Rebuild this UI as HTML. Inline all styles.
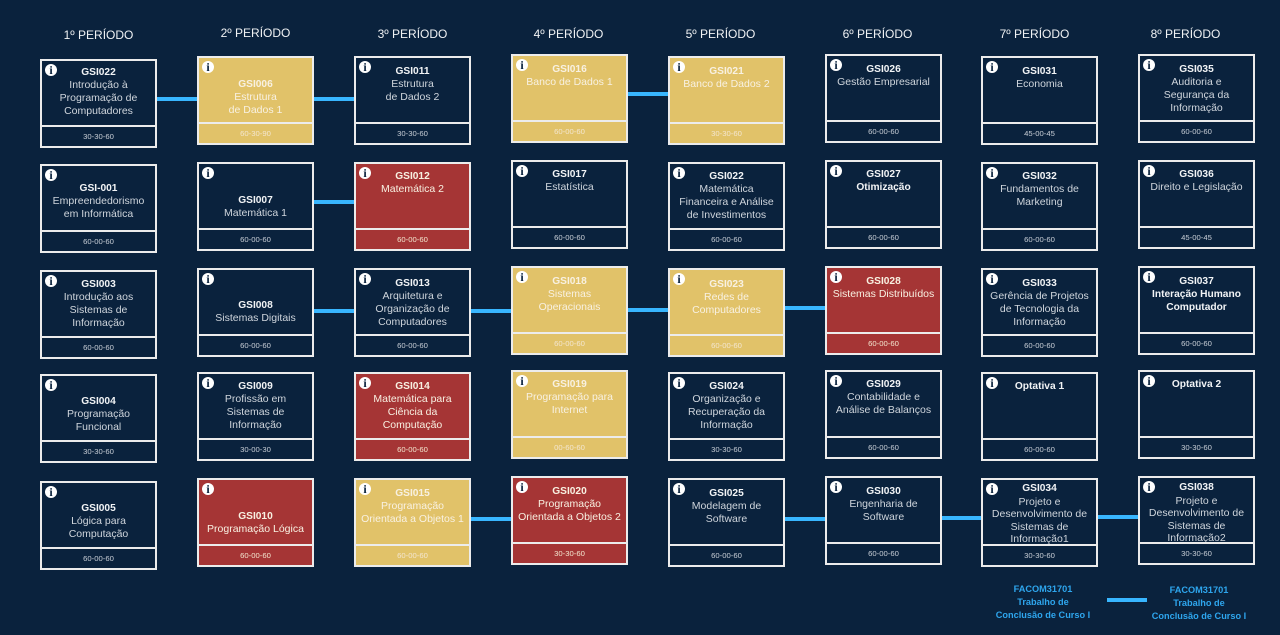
<!DOCTYPE html>
<html lang="pt-BR">
<head>
<meta charset="utf-8">
<title>Grade curricular</title>
<style>
html,body{margin:0;padding:0;}
body{width:1280px;height:635px;background:#0a223d;position:relative;overflow:hidden;font-family:"Liberation Sans",sans-serif;}
.h{position:absolute;width:117px;text-align:center;font-size:12px;line-height:16px;color:#f0f2f4;white-space:nowrap;}
.c{position:absolute;width:117px;height:89px;background:#0a223d;box-shadow:inset 0 0 0 2px #ececec;}
.g{background:#e1c269;}
.r{background:#a53535;}
.ii{position:absolute;left:5px;top:5px;width:12px;height:12px;border-radius:50%;background:#fff;color:#0a223d;font:bold 12px/12px "Liberation Serif",serif;text-align:center;}
.t{position:absolute;left:0;width:117px;margin-top:1px;text-align:center;font-size:10.5px;line-height:13px;color:#cfd5dc;white-space:nowrap;}
.t b{font-size:10.2px;color:#f2f4f6;}
.g .t,.r .t,.g .t b,.r .t b{color:#f8f1e2;}
.s{line-height:12.5px;}
.f{position:absolute;left:0;top:66px;width:117px;height:21px;border-top:2px solid #ececec;text-align:center;font-size:7.7px;line-height:19px;color:#c8ced6;}
.g .f,.r .f{color:#f3e6cf;}
.l{position:absolute;width:40px;height:4px;background:#38b6ff;}
.k{position:absolute;width:120px;text-align:center;font-size:9.2px;font-weight:bold;line-height:13px;color:#2ea6ee;white-space:nowrap;}
</style>
</head>
<body>

<div class="h" style="left:40px;top:27px">1º PERÍODO</div>
<div class="h" style="left:197px;top:25px">2º PERÍODO</div>
<div class="h" style="left:354px;top:26px">3º PERÍODO</div>
<div class="h" style="left:510px;top:26px">4º PERÍODO</div>
<div class="h" style="left:662px;top:26px">5º PERÍODO</div>
<div class="h" style="left:819px;top:26px">6º PERÍODO</div>
<div class="h" style="left:976px;top:26px">7º PERÍODO</div>
<div class="h" style="left:1127px;top:26px">8º PERÍODO</div>

<div class="l" style="left:157px;top:97px"></div>
<div class="l" style="left:314px;top:97px"></div>
<div class="l" style="left:628px;top:92px"></div>
<div class="l" style="left:314px;top:200px"></div>
<div class="l" style="left:314px;top:309px"></div>
<div class="l" style="left:471px;top:309px"></div>
<div class="l" style="left:628px;top:308px"></div>
<div class="l" style="left:785px;top:306px"></div>
<div class="l" style="left:471px;top:517px"></div>
<div class="l" style="left:785px;top:517px"></div>
<div class="l" style="left:942px;top:516px"></div>
<div class="l" style="left:1098px;top:515px"></div>

<!-- Period 1 -->
<div class="c" style="left:40px;top:59px"><div class="ii">i</div><div class="t" style="top:6px"><b>GSI022</b><br>Introdução à<br>Programação de<br>Computadores</div><div class="f">30-30-60</div></div>
<div class="c" style="left:40px;top:164px"><div class="ii">i</div><div class="t" style="top:17px"><b>GSI-001</b><br>Empreendedorismo<br>em Informática</div><div class="f">60-00-60</div></div>
<div class="c" style="left:40px;top:270px"><div class="ii">i</div><div class="t" style="top:7px"><b>GSI003</b><br>Introdução aos<br>Sistemas de<br>Informação</div><div class="f">60-00-60</div></div>
<div class="c" style="left:40px;top:374px"><div class="ii">i</div><div class="t" style="top:20px"><b>GSI004</b><br>Programação<br>Funcional</div><div class="f">30-30-60</div></div>
<div class="c" style="left:40px;top:481px"><div class="ii">i</div><div class="t" style="top:20px"><b>GSI005</b><br>Lógica para<br>Computação</div><div class="f">60-00-60</div></div>

<!-- Period 2 -->
<div class="c g" style="left:197px;top:56px"><div class="ii">i</div><div class="t" style="top:21px"><b>GSI006</b><br>Estrutura<br>de Dados 1</div><div class="f">60-30-90</div></div>
<div class="c" style="left:197px;top:162px"><div class="ii">i</div><div class="t" style="top:31px"><b>GSI007</b><br>Matemática 1</div><div class="f">60-00-60</div></div>
<div class="c" style="left:197px;top:268px"><div class="ii">i</div><div class="t" style="top:30px"><b>GSI008</b><br>Sistemas Digitais</div><div class="f">60-00-60</div></div>
<div class="c" style="left:197px;top:372px"><div class="ii">i</div><div class="t" style="top:7px"><b>GSI009</b><br>Profissão em<br>Sistemas de<br>Informação</div><div class="f">30-00-30</div></div>
<div class="c r" style="left:197px;top:478px"><div class="ii">i</div><div class="t" style="top:31px"><b>GSI010</b><br>Programação Lógica</div><div class="f">60-00-60</div></div>

<!-- Period 3 -->
<div class="c" style="left:354px;top:56px"><div class="ii">i</div><div class="t" style="top:8px"><b>GSI011</b><br>Estrutura<br>de Dados 2</div><div class="f">30-30-60</div></div>
<div class="c r" style="left:354px;top:162px"><div class="ii">i</div><div class="t" style="top:7px"><b>GSI012</b><br>Matemática 2</div><div class="f">60-00-60</div></div>
<div class="c" style="left:354px;top:268px"><div class="ii">i</div><div class="t" style="top:8px"><b>GSI013</b><br>Arquitetura e<br>Organização de<br>Computadores</div><div class="f">60-00-60</div></div>
<div class="c r" style="left:354px;top:372px"><div class="ii">i</div><div class="t" style="top:7px"><b>GSI014</b><br>Matemática para<br>Ciência da<br>Computação</div><div class="f">60-00-60</div></div>
<div class="c g" style="left:354px;top:478px"><div class="ii">i</div><div class="t" style="top:8px"><b>GSI015</b><br>Programação<br>Orientada a Objetos 1</div><div class="f">60-00-60</div></div>

<!-- Period 4 -->
<div class="c g" style="left:511px;top:54px"><div class="ii">i</div><div class="t" style="top:8px"><b>GSI016</b><br>Banco de Dados 1</div><div class="f">60-00-60</div></div>
<div class="c" style="left:511px;top:160px"><div class="ii">i</div><div class="t" style="top:7px"><b>GSI017</b><br>Estatística</div><div class="f">60-00-60</div></div>
<div class="c g" style="left:511px;top:266px"><div class="ii">i</div><div class="t" style="top:8px"><b>GSI018</b><br>Sistemas<br>Operacionais</div><div class="f">60-00-60</div></div>
<div class="c g" style="left:511px;top:370px"><div class="ii">i</div><div class="t" style="top:7px"><b>GSI019</b><br>Programação para<br>Internet</div><div class="f">00-60-60</div></div>
<div class="c r" style="left:511px;top:476px"><div class="ii">i</div><div class="t" style="top:8px"><b>GSI020</b><br>Programação<br>Orientada a Objetos 2</div><div class="f">30-30-60</div></div>

<!-- Period 5 -->
<div class="c g" style="left:668px;top:56px"><div class="ii">i</div><div class="t" style="top:8px"><b>GSI021</b><br>Banco de Dados 2</div><div class="f">30-30-60</div></div>
<div class="c" style="left:668px;top:162px"><div class="ii">i</div><div class="t" style="top:7px"><b>GSI022</b><br>Matemática<br>Financeira e Análise<br>de Investimentos</div><div class="f">60-00-60</div></div>
<div class="c g" style="left:668px;top:268px"><div class="ii">i</div><div class="t" style="top:9px"><b>GSI023</b><br>Redes de<br>Computadores</div><div class="f">60-00-60</div></div>
<div class="c" style="left:668px;top:372px"><div class="ii">i</div><div class="t" style="top:7px"><b>GSI024</b><br>Organização e<br>Recuperação da<br>Informação</div><div class="f">30-30-60</div></div>
<div class="c" style="left:668px;top:478px"><div class="ii">i</div><div class="t" style="top:8px"><b>GSI025</b><br>Modelagem de<br>Software</div><div class="f">60-00-60</div></div>

<!-- Period 6 -->
<div class="c" style="left:825px;top:54px"><div class="ii">i</div><div class="t" style="top:8px"><b>GSI026</b><br>Gestão Empresarial</div><div class="f">60-00-60</div></div>
<div class="c" style="left:825px;top:160px"><div class="ii">i</div><div class="t" style="top:7px"><b>GSI027<br>Otimização</b></div><div class="f">60-00-60</div></div>
<div class="c r" style="left:825px;top:266px"><div class="ii">i</div><div class="t" style="top:8px"><b>GSI028</b><br>Sistemas Distribuídos</div><div class="f">60-00-60</div></div>
<div class="c" style="left:825px;top:370px"><div class="ii">i</div><div class="t" style="top:7px"><b>GSI029</b><br>Contabilidade e<br>Análise de Balanços</div><div class="f">60-00-60</div></div>
<div class="c" style="left:825px;top:476px"><div class="ii">i</div><div class="t" style="top:8px"><b>GSI030</b><br>Engenharia de<br>Software</div><div class="f">60-00-60</div></div>

<!-- Period 7 -->
<div class="c" style="left:981px;top:56px"><div class="ii">i</div><div class="t" style="top:8px"><b>GSI031</b><br>Economia</div><div class="f">45-00-45</div></div>
<div class="c" style="left:981px;top:162px"><div class="ii">i</div><div class="t" style="top:7px"><b>GSI032</b><br>Fundamentos de<br>Marketing</div><div class="f">60-00-60</div></div>
<div class="c" style="left:981px;top:268px"><div class="ii">i</div><div class="t" style="top:8px"><b>GSI033</b><br>Gerência de Projetos<br>de Tecnologia da<br>Informação</div><div class="f">60-00-60</div></div>
<div class="c" style="left:981px;top:372px"><div class="ii">i</div><div class="t" style="top:7px"><b>Optativa 1</b></div><div class="f">60-00-60</div></div>
<div class="c" style="left:981px;top:478px"><div class="ii">i</div><div class="t s" style="top:3px"><b>GSI034</b><br>Projeto e<br>Desenvolvimento de<br>Sistemas de<br>Informação1</div><div class="f">30-30-60</div></div>

<!-- Period 8 -->
<div class="c" style="left:1138px;top:54px"><div class="ii">i</div><div class="t" style="top:8px"><b>GSI035</b><br>Auditoria e<br>Segurança da<br>Informação</div><div class="f">60-00-60</div></div>
<div class="c" style="left:1138px;top:160px"><div class="ii">i</div><div class="t" style="top:7px"><b>GSI036</b><br>Direito e Legislação</div><div class="f">45-00-45</div></div>
<div class="c" style="left:1138px;top:266px"><div class="ii">i</div><div class="t" style="top:8px"><b>GSI037<br>Interação Humano<br>Computador</b></div><div class="f">60-00-60</div></div>
<div class="c" style="left:1138px;top:370px"><div class="ii">i</div><div class="t" style="top:7px"><b>Optativa 2</b></div><div class="f">30-30-60</div></div>
<div class="c" style="left:1138px;top:476px"><div class="ii">i</div><div class="t s" style="top:4px"><b>GSI038</b><br>Projeto e<br>Desenvolvimento de<br>Sistemas de<br>Informação2</div><div class="f">30-30-60</div></div>

<!-- Legend -->
<div class="k" style="left:983px;top:583px">FACOM31701<br>Trabalho de<br>Conclusão de Curso I</div>
<div class="l" style="left:1107px;top:598px"></div>
<div class="k" style="left:1139px;top:584px">FACOM31701<br>Trabalho de<br>Conclusão de Curso I</div>

</body>
</html>
